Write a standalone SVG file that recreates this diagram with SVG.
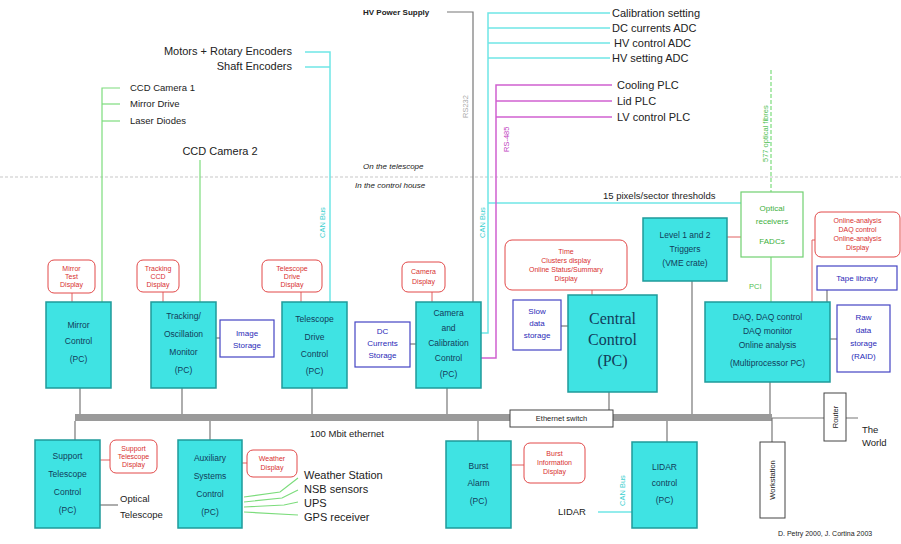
<svg xmlns="http://www.w3.org/2000/svg" width="901" height="544" viewBox="0 0 901 544">
<style>
text{font-family:"Liberation Sans",Arial,sans-serif;fill:#222}
.lbl{font-size:9.5px}
.big{font-size:11px}
.pc rect{fill:#3fe3e3;stroke:#1f9a9a;stroke-width:1.5}
.pc text{font-size:8.5px;fill:#123c5a;text-anchor:middle}
.disp rect{fill:#fff;stroke:#e24848;stroke-width:1}
.disp text{font-size:7px;fill:#d83030;text-anchor:middle}
.sto rect{fill:#fff;stroke:#4444c4;stroke-width:1.2}
.sto text{font-size:8px;fill:#2a2ab8;text-anchor:middle}
.wb rect{fill:#fff;stroke:#444;stroke-width:1}
.wb text{font-size:7.5px;text-anchor:middle}
.g{stroke:#7cdc7c;stroke-width:1.2;fill:none}
.c{stroke:#6fe6e6;stroke-width:1.5;fill:none}
.m{stroke:#d060d0;stroke-width:1.5;fill:none}
.k{stroke:#777;stroke-width:1.2;fill:none}
.r{stroke:#e06060;stroke-width:1;fill:none}
.vl{font-size:7.5px}
</style>

<!-- separator -->
<line x1="0" y1="177" x2="901" y2="177" stroke="#c8c8c8" stroke-width="1.2" stroke-dasharray="3,2"/>
<text x="363" y="169" font-size="8" font-style="italic">On the telescope</text>
<text x="355" y="188" font-size="8" font-style="italic">In the control house</text>

<g id="connectors">
  <!-- bus -->
  <rect x="75" y="414" width="697" height="7" fill="#9a9a9a"/>
  <line x1="772" y1="418" x2="858" y2="418" class="k"/>
  <!-- drops -->
  <line x1="80" y1="388" x2="80" y2="414" class="k"/>
  <line x1="182" y1="388" x2="182" y2="414" class="k"/>
  <line x1="312" y1="388" x2="312" y2="414" class="k"/>
  <line x1="447" y1="388" x2="447" y2="414" class="k"/>
  <line x1="609" y1="392" x2="609" y2="410" class="k"/>
  <line x1="692" y1="281" x2="692" y2="414" class="k"/>
  <line x1="770" y1="382" x2="770" y2="414" class="k"/>
  <line x1="75" y1="421" x2="75" y2="440" class="k"/>
  <line x1="210" y1="421" x2="210" y2="440" class="k"/>
  <line x1="478" y1="421" x2="478" y2="441" class="k"/>
  <line x1="667" y1="421" x2="667" y2="442" class="k"/>
  <line x1="772" y1="418" x2="772" y2="442" class="k"/>
  <!-- box-to-box -->
  <line x1="216" y1="338" x2="220" y2="338" class="k"/>
  <line x1="410" y1="344" x2="416" y2="344" class="k"/>
  <line x1="561" y1="326" x2="568" y2="326" class="k"/>
  <line x1="830" y1="339" x2="837" y2="339" class="k"/>
  <line x1="827" y1="290" x2="827" y2="302" class="k"/>
  <line x1="100" y1="505" x2="118" y2="505" class="k"/>
  <!-- display links -->
  <line x1="72" y1="293" x2="72" y2="302" class="r"/>
  <line x1="163" y1="292" x2="163" y2="302" class="r"/>
  <line x1="301" y1="292" x2="301" y2="302" class="r"/>
  <line x1="432" y1="292" x2="432" y2="302" class="r"/>
  <line x1="592" y1="290" x2="592" y2="295" class="r"/>
  <line x1="100" y1="460" x2="110" y2="460" class="r"/>
  <line x1="242" y1="463" x2="247" y2="463" class="r"/>
  <line x1="511" y1="465" x2="524" y2="465" class="r"/>
  <line x1="727" y1="237" x2="741" y2="237" class="r"/>
  <polyline points="815,240 812,240 812,302" class="r"/>
  <!-- green mirror -->
  <polyline points="120,88 102,88 102,302" class="g"/>
  <line x1="102" y1="104" x2="120" y2="104" class="g"/>
  <line x1="102" y1="121" x2="120" y2="121" class="g"/>
  <line x1="200" y1="160" x2="200" y2="302" class="g"/>
  <!-- cyan drive -->
  <polyline points="305,52 330,52 330,302" class="c"/>
  <line x1="305" y1="67" x2="330" y2="67" class="c"/>
  <!-- HV supply -->
  <polyline points="447,12 473,12 473,302" class="k" stroke="#bbb"/>
  <!-- cyan camera -->
  <polyline points="610,13 488,13 488,333 481,333" class="c"/>
  <line x1="488" y1="28" x2="610" y2="28" class="c"/>
  <line x1="488" y1="43" x2="610" y2="43" class="c"/>
  <line x1="488" y1="58" x2="610" y2="58" class="c"/>
  <line x1="488" y1="203" x2="741" y2="203" class="c"/>
  <!-- magenta -->
  <polyline points="612,85 496,85 496,358 481,358" class="m"/>
  <line x1="496" y1="101" x2="612" y2="101" class="m"/>
  <line x1="496" y1="117" x2="612" y2="117" class="m"/>
  <!-- fibres -->
  <line x1="771" y1="70" x2="771" y2="192" class="g" stroke-dasharray="4,2"/>
  <line x1="771" y1="257" x2="771" y2="302" class="g"/>
  <!-- aux sensors -->
  <polyline points="244,497 280,492 298,478" class="g"/>
  <polyline points="244,502 282,498 298,490" class="g"/>
  <polyline points="244,507 284,505 298,502" class="g"/>
  <polyline points="244,512 298,515" class="g"/>
  <!-- LIDAR -->
  <line x1="598" y1="512" x2="632" y2="512" class="c"/>
</g>

<!-- vertical labels -->
<text class="vl" transform="translate(468,118) rotate(-90)" style="fill:#aaa">RS232</text>
<text class="vl" transform="translate(509,152) rotate(-90)" style="fill:#c040c0">RS-485</text>
<text class="vl" transform="translate(325,238) rotate(-90)" style="fill:#40d0d0">CAN Bus</text>
<text class="vl" transform="translate(485,238) rotate(-90)" style="fill:#40d0d0">CAN Bus</text>
<text class="vl" transform="translate(625,506) rotate(-90)" style="fill:#40d0d0">CAN Bus</text>
<text class="vl" transform="translate(768,162) rotate(-90)" style="fill:#50c050">577 optical fibres</text>
<text class="vl" x="749" y="289" style="fill:#50c050">PCI</text>

<!-- top labels -->
<text class="big" x="292" y="55" text-anchor="end">Motors + Rotary Encoders</text>
<text class="big" x="292" y="70" text-anchor="end">Shaft Encoders</text>
<text class="lbl" x="130" y="91">CCD Camera 1</text>
<text class="lbl" x="130" y="107">Mirror Drive</text>
<text class="lbl" x="130" y="124">Laser Diodes</text>
<text class="big" x="220" y="155" text-anchor="middle">CCD Camera 2</text>
<text x="363" y="15" font-size="8" font-weight="bold">HV Power Supply</text>
<text class="big" x="612" y="17">Calibration setting</text>
<text class="big" x="612" y="32">DC currents ADC</text>
<text class="big" x="614" y="47">HV control ADC</text>
<text class="big" x="612" y="62">HV setting ADC</text>
<text class="big" x="617" y="89">Cooling PLC</text>
<text class="big" x="617" y="105">Lid PLC</text>
<text class="big" x="617" y="121">LV control PLC</text>
<text class="lbl" x="603" y="199">15 pixels/sector thresholds</text>
<text class="lbl" x="310" y="437">100 Mbit ethernet</text>
<text class="big" x="304" y="479">Weather Station</text>
<text class="big" x="304" y="493">NSB sensors</text>
<text class="big" x="304" y="507">UPS</text>
<text class="big" x="304" y="521">GPS receiver</text>
<text class="lbl" x="120" y="502">Optical</text>
<text class="lbl" x="120" y="518">Telescope</text>
<text class="lbl" x="558" y="515">LIDAR</text>
<text class="lbl" x="862" y="433">The</text>
<text class="lbl" x="862" y="446">World</text>
<text x="778" y="536" font-size="7">D. Petry 2000, J. Cortina 2003</text>

<!-- PC nodes -->
<g id="mirror" class="pc"><rect x="46" y="302" width="65" height="86"/><text x="78.5" y="328">Mirror</text><text x="78.5" y="344">Control</text><text x="78.5" y="362">(PC)</text></g>
<g id="tracking" class="pc"><rect x="151" y="302" width="65" height="86"/><text x="183.5" y="319">Tracking/</text><text x="183.5" y="337">Oscillation</text><text x="183.5" y="355">Monitor</text><text x="183.5" y="373">(PC)</text></g>
<g id="drive" class="pc"><rect x="282" y="302" width="65" height="86"/><text x="314.5" y="322">Telescope</text><text x="314.5" y="340">Drive</text><text x="314.5" y="357">Control</text><text x="314.5" y="374">(PC)</text></g>
<g id="camera" class="pc"><rect x="416" y="302" width="65" height="86"/><text x="448.5" y="316">Camera</text><text x="448.5" y="331">and</text><text x="448.5" y="346">Calibration</text><text x="448.5" y="361">Control</text><text x="448.5" y="377">(PC)</text></g>
<g id="central" class="pc"><rect x="568" y="295" width="89" height="97"/><text x="612.5" y="324" style="font-family:'Liberation Serif',serif;font-size:16px">Central</text><text x="612.5" y="345" style="font-family:'Liberation Serif',serif;font-size:16px">Control</text><text x="612.5" y="366" style="font-family:'Liberation Serif',serif;font-size:16px">(PC)</text></g>
<g id="trigger" class="pc"><rect x="643" y="218" width="84" height="63"/><text x="685" y="238">Level 1 and 2</text><text x="685" y="252">Triggers</text><text x="685" y="266">(VME crate)</text></g>
<g id="daq" class="pc"><rect x="705" y="302" width="125" height="80"/><text x="767.5" y="320">DAQ, DAQ control</text><text x="767.5" y="334">DAQ monitor</text><text x="767.5" y="348">Online analysis</text><text x="767.5" y="366">(Multiprocessor PC)</text></g>
<g id="support" class="pc"><rect x="35" y="440" width="65" height="88"/><text x="67.5" y="459">Support</text><text x="67.5" y="477">Telescope</text><text x="67.5" y="495">Control</text><text x="67.5" y="513">(PC)</text></g>
<g id="aux" class="pc"><rect x="178" y="440" width="64" height="88"/><text x="210" y="461">Auxiliary</text><text x="210" y="479">Systems</text><text x="210" y="497">Control</text><text x="210" y="515">(PC)</text></g>
<g id="burst" class="pc"><rect x="446" y="441" width="65" height="87"/><text x="478.5" y="469">Burst</text><text x="478.5" y="486">Alarm</text><text x="478.5" y="504">(PC)</text></g>
<g id="lidar" class="pc"><rect x="632" y="442" width="65" height="86"/><text x="664.5" y="470">LIDAR</text><text x="664.5" y="486">control</text><text x="664.5" y="503">(PC)</text></g>

<!-- displays -->
<g id="d-mirror" class="disp"><rect x="48" y="260" width="47" height="33" rx="6"/><text x="71.5" y="271">Mirror</text><text x="71.5" y="279">Test</text><text x="71.5" y="287">Display</text></g>
<g id="d-track" class="disp"><rect x="137" y="260" width="42" height="32" rx="6"/><text x="158" y="271">Tracking</text><text x="158" y="279">CCD</text><text x="158" y="287">Display</text></g>
<g id="d-drive" class="disp"><rect x="262" y="260" width="60" height="32" rx="6"/><text x="292" y="271">Telescope</text><text x="292" y="279">Drive</text><text x="292" y="287">Display</text></g>
<g id="d-camera" class="disp"><rect x="402" y="262" width="43" height="30" rx="6"/><text x="423.5" y="274">Camera</text><text x="423.5" y="284">Display</text></g>
<g id="d-central" class="disp"><rect x="505" y="240" width="122" height="50" rx="7"/><text x="566" y="254">Time</text><text x="566" y="263">Clusters display</text><text x="566" y="272">Online Status/Summary</text><text x="566" y="281">Display</text></g>
<g id="d-daq" class="disp"><rect x="815" y="212" width="85" height="45" rx="6"/><text x="857.5" y="223">Online-analysis</text><text x="857.5" y="232">DAQ control</text><text x="857.5" y="241">Online-analysis</text><text x="857.5" y="250">Display</text></g>
<g id="d-support" class="disp"><rect x="110" y="440" width="47" height="33" rx="6"/><text x="133.5" y="451">Support</text><text x="133.5" y="459">Telescope</text><text x="133.5" y="467">Display</text></g>
<g id="d-weather" class="disp"><rect x="247" y="450" width="50" height="27" rx="6"/><text x="272" y="461">Weather</text><text x="272" y="470">Display</text></g>
<g id="d-burst" class="disp"><rect x="524" y="443" width="61" height="40" rx="6"/><text x="554.5" y="456">Burst</text><text x="554.5" y="465">Information</text><text x="554.5" y="474">Display</text></g>

<!-- storage -->
<g id="s-image" class="sto"><rect x="220" y="320" width="54" height="37"/><text x="247" y="336">Image</text><text x="247" y="348">Storage</text></g>
<g id="s-dc" class="sto"><rect x="355" y="322" width="55" height="45"/><text x="382.5" y="334">DC</text><text x="382.5" y="346">Currents</text><text x="382.5" y="358">Storage</text></g>
<g id="s-slow" class="sto"><rect x="513" y="300" width="48" height="50"/><text x="537" y="314">Slow</text><text x="537" y="326">data</text><text x="537" y="338">storage</text></g>
<g id="s-tape" class="sto"><rect x="817" y="266" width="80" height="24"/><text x="857" y="281">Tape library</text></g>
<g id="s-raw" class="sto"><rect x="837" y="305" width="53" height="67"/><text x="863.5" y="320">Raw</text><text x="863.5" y="333">data</text><text x="863.5" y="346">storage</text><text x="863.5" y="359">(RAID)</text></g>

<!-- optical receivers -->
<g id="receivers"><rect x="741" y="192" width="62" height="65" fill="#fff" stroke="#70d070" stroke-width="1.2"/><text x="772" y="211" font-size="8" text-anchor="middle" style="fill:#40b040">Optical</text><text x="772" y="224" font-size="8" text-anchor="middle" style="fill:#40b040">receivers</text><text x="772" y="244" font-size="8" text-anchor="middle" style="fill:#40b040">FADCs</text></g>

<!-- white boxes -->
<g id="switch" class="wb"><rect x="510" y="410" width="103" height="17"/><text x="561.5" y="421">Ethernet switch</text></g>
<g id="router" class="wb"><rect x="824" y="393" width="22" height="48"/><text transform="translate(838,417) rotate(-90)">Router</text></g>
<g id="workstation" class="wb"><rect x="760" y="442" width="25" height="76"/><text transform="translate(775,480) rotate(-90)">Workstation</text></g>
</svg>
